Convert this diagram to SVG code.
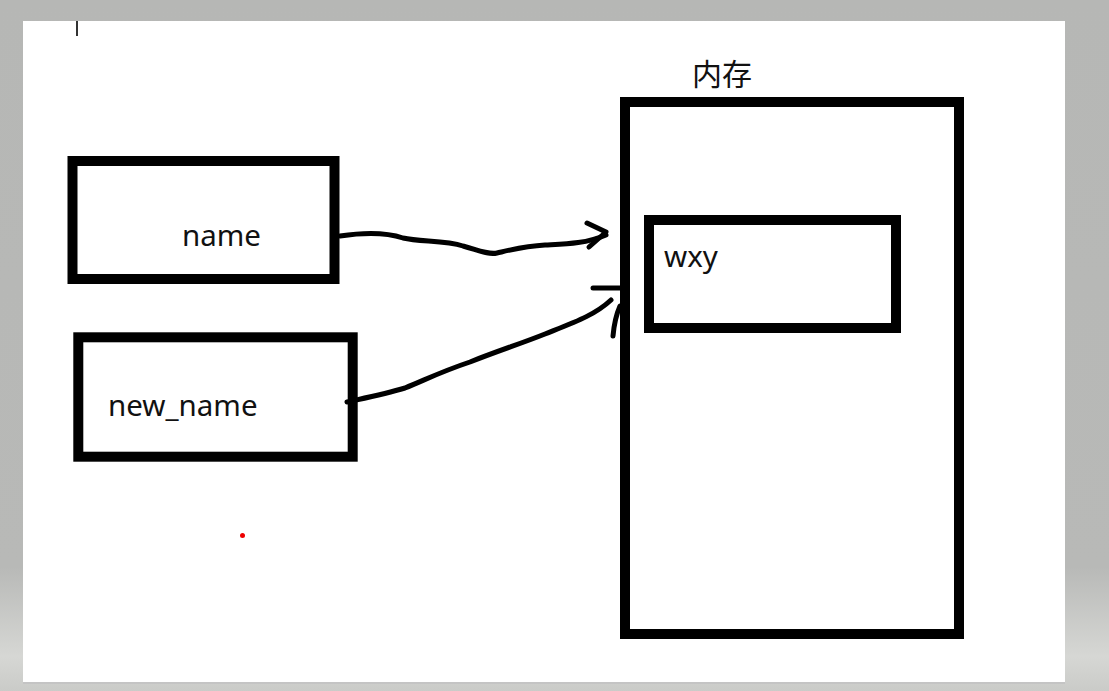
<svg xmlns="http://www.w3.org/2000/svg" width="1109" height="691" viewBox="0 0 1109 691">
<defs>
<linearGradient id="bg" x1="0" y1="0" x2="0" y2="1">
<stop offset="0" stop-color="#b6b7b5"/>
<stop offset="0.82" stop-color="#b8b9b7"/>
<stop offset="0.95" stop-color="#d6d7d4"/>
<stop offset="1" stop-color="#cacbc8"/>
</linearGradient>
<style>
.box{fill:none;stroke:#000;stroke-width:10}
.lbl{font-family:"Noto Sans","Open Sans","Liberation Sans",sans-serif;font-size:29.5px;fill:#111}
.cjk{font-family:"Noto Sans CJK SC","Noto Sans",sans-serif;font-size:30px;fill:#111}
.pen{fill:none;stroke:#000;stroke-width:5;stroke-linecap:round;stroke-linejoin:round}
</style>
</defs>
<rect x="0" y="0" width="1109" height="691" fill="url(#bg)"/>
<rect x="23" y="21" width="1042" height="662" fill="#fff"/>
<rect x="23" y="682" width="1042" height="2" fill="#c4c4c4"/>
<rect x="76" y="21" width="2" height="15" fill="#333"/>
<circle cx="242.5" cy="535.5" r="2.5" fill="#e00"/>

<g id="name">
<rect class="box" x="72.5" y="161" width="262" height="118"/>
<text class="lbl" x="182" y="246">name</text>
</g>
<g id="new_name">
<rect class="box" x="78.3" y="337.3" width="274.4" height="119.4"/>
<text class="lbl" x="108" y="416">new_name</text>
</g>
<g id="memory">
<text class="cjk" x="692" y="85">内存</text>
<rect class="box" x="625" y="102" width="334" height="532"/>
</g>
<g id="wxy">
<rect class="box" x="649" y="220" width="247" height="108"/>
<text class="lbl" x="664" y="267">wxy</text>
</g>

<g id="connectors">
<path class="pen" d="M340,236 C360,233 385,232 403,238 C420,242 445,240 463,246 C478,250 488,255 497,253 C510,250 525,246 545,245 C565,244 585,244 606,235"/>
<path class="pen" d="M587,223 L606,232 L589,247"/>
<path class="pen" d="M347,402 C365,398 385,394 405,388 C425,380 440,372 470,362 C500,350 520,344 545,334 C575,322 595,315 611,300"/>
<path class="pen" d="M593,288 L620,288"/>
<path class="pen" d="M613,336 C614,325 616,315 620,306"/>
</g>
</svg>
